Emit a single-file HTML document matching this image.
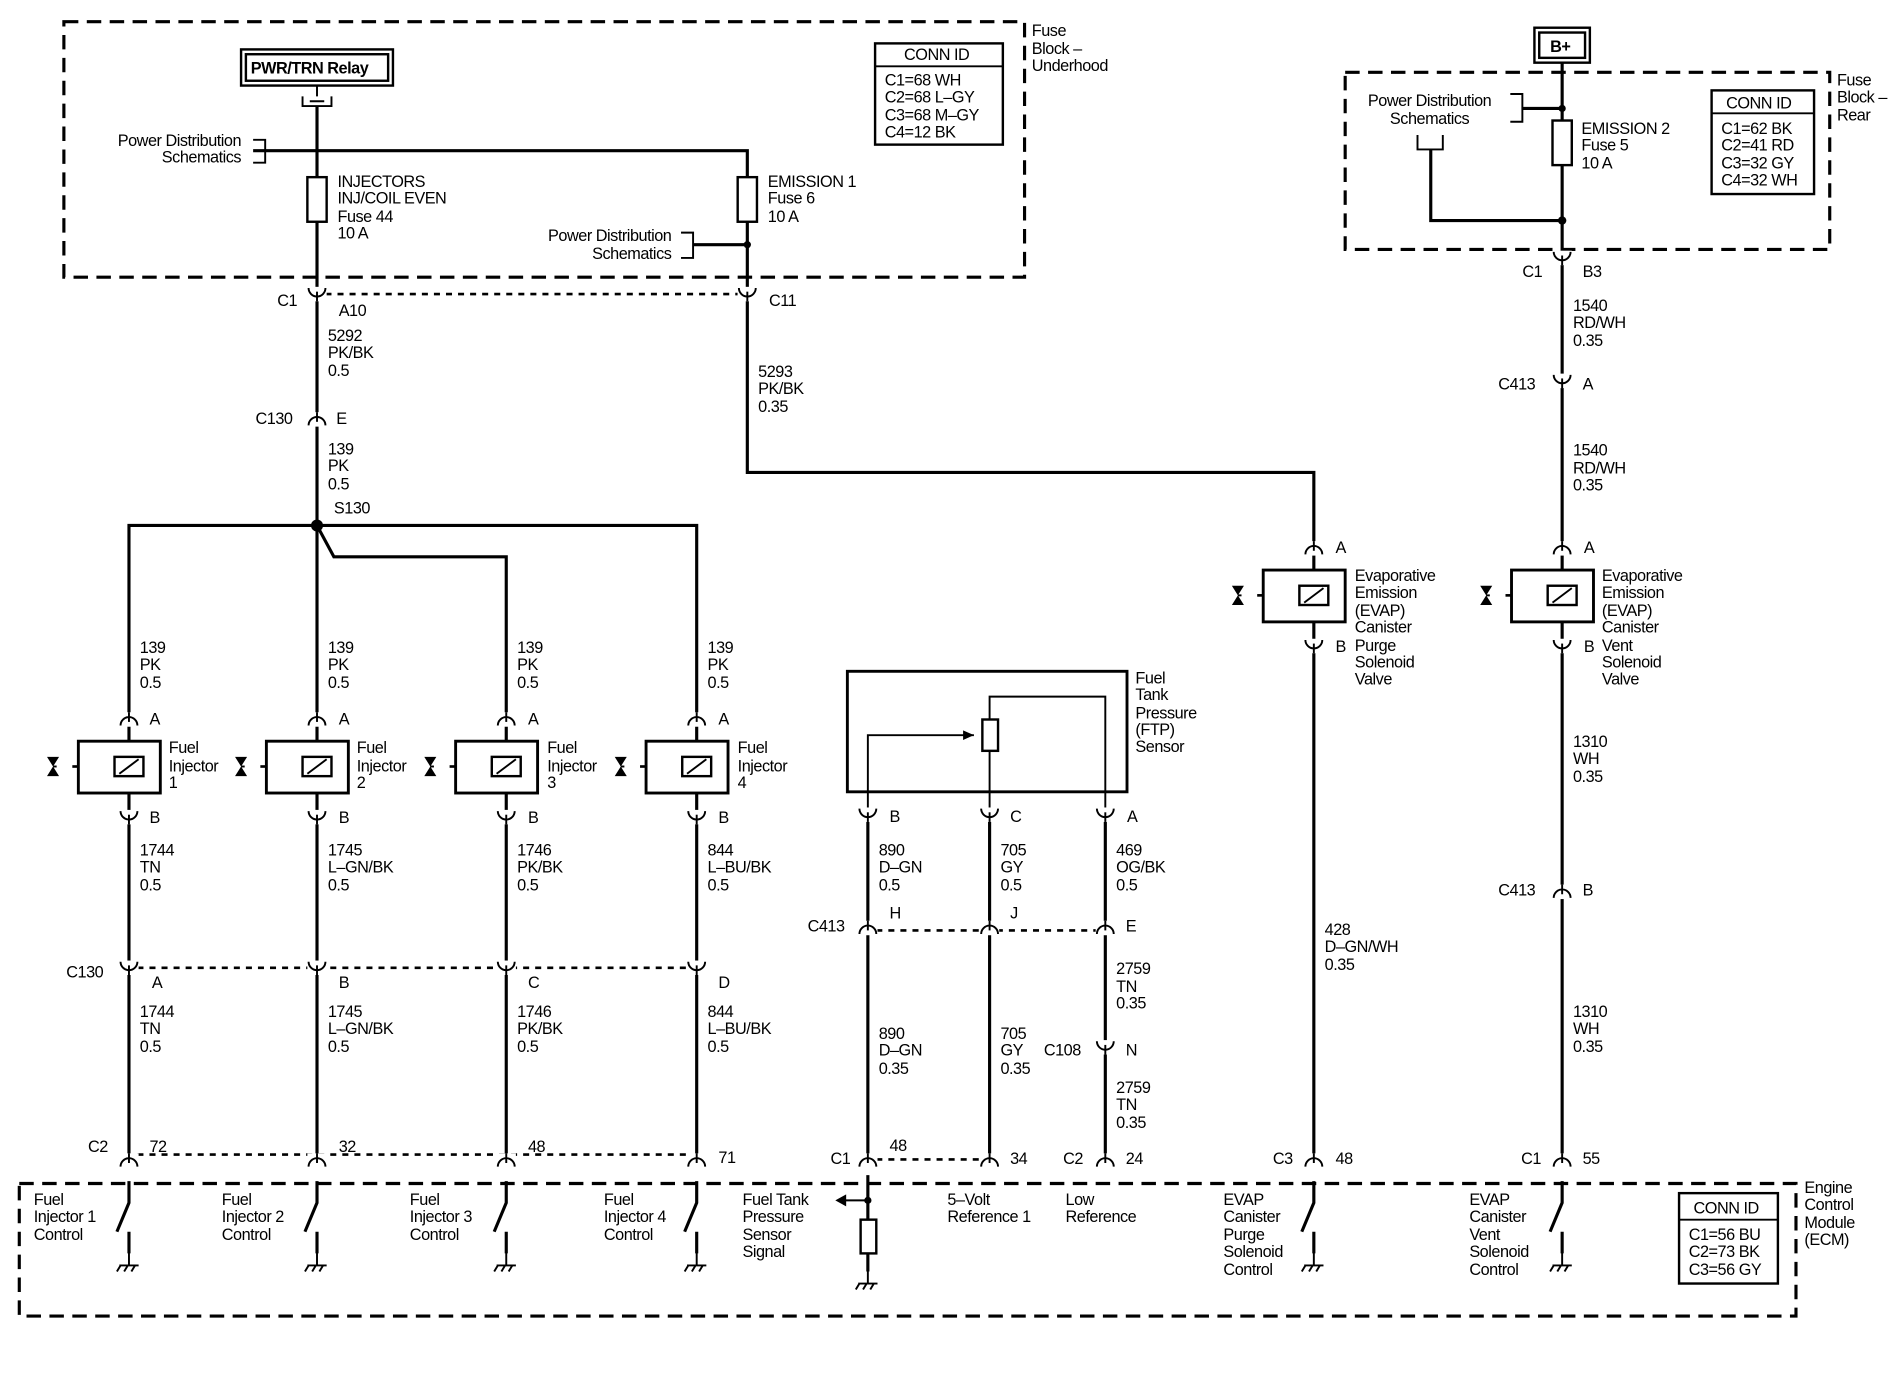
<!DOCTYPE html>
<html><head><meta charset="utf-8"><style>
html,body{margin:0;padding:0;background:#fff;}
svg{display:block}
text{font-family:"Liberation Sans",sans-serif;font-size:13.5px;fill:#000;letter-spacing:-0.4px}
.w{stroke:#000;stroke-width:2.6;fill:none}
.t{stroke:#000;stroke-width:1.6;fill:none}
.d{stroke:#000;stroke-width:2.6;fill:none;stroke-dasharray:12 7}
.dd{stroke:#000;stroke-width:2.2;fill:none;stroke-dasharray:5 5}
</style></head><body>
<svg width="1890" height="1392" viewBox="0 0 1568 1155" preserveAspectRatio="none" xmlns="http://www.w3.org/2000/svg">
<defs>
<g id="cu"><rect x="-8" y="-6" width="16" height="12" fill="#fff"/><path d="M-7,-5 A7,7 0 0 0 7,-5" class="t" stroke-width="2.4"/><path d="M0,-2 V6" class="t" stroke-width="2.6"/></g>
<g id="cn"><rect x="-8" y="-6" width="16" height="12" fill="#fff"/><path d="M-7,5 A7,7 0 0 1 7,5" class="t" stroke-width="2.4"/><path d="M0,-6 V2" class="t" stroke-width="2.6"/></g>
<g id="gnd"><path d="M0,0 V12 M-8,12 H8 M-7,12 l-3,5 M-1,12 l-3,5 M5,12 l-3,5" class="t"/></g>
<g id="sol"><rect x="-42" y="0" width="68" height="43" fill="#fff" stroke="#000" stroke-width="2.4"/><rect x="-12" y="13" width="24" height="16" fill="none" stroke="#000" stroke-width="2"/><path d="M-8,27 L8,15" class="t"/><path d="M-42,21 H-52" class="dd" stroke-width="1.6"/><path d="M-68,13 L-58,29 H-68 L-58,13 Z" fill="#000"/><path d="M-63,21 H-60" class="t"/></g>
</defs>
<rect width="1568" height="1155" fill="#fff"/>

<!-- Top left fuse block -->
<rect x="53" y="18" width="797" height="212" class="d"/>
<text x="856" y="30">Fuse</text><text x="856" y="45">Block –</text><text x="856" y="59">Underhood</text>
<rect x="200" y="41" width="126" height="30" fill="#fff" stroke="#000" stroke-width="2"/>
<rect x="204" y="45" width="118" height="22" fill="none" stroke="#000" stroke-width="2"/>
<text x="208" y="61" font-weight="bold">PWR/TRN Relay</text>
<path d="M263,71 V80 M251,80 V88 H275 V80 M257,84 H269" class="t"/>
<path d="M263,88 V960" class="w"/>
<path d="M210,125 H620 V200" class="w"/>
<path d="M210,116 H220 V135 H210" class="t"/>
<text x="200" y="121" text-anchor="end">Power Distribution</text><text x="200" y="135" text-anchor="end">Schematics</text>
<rect x="255" y="147" width="16" height="37" fill="#fff" stroke="#000" stroke-width="2"/>
<text x="280" y="155">INJECTORS</text><text x="280" y="169">INJ/COIL EVEN</text><text x="280" y="184">Fuse 44</text><text x="280" y="198">10 A</text>
<rect x="612" y="147" width="16" height="37" fill="#fff" stroke="#000" stroke-width="2"/>
<text x="637" y="155">EMISSION 1</text><text x="637" y="169">Fuse 6</text><text x="637" y="184">10 A</text>
<path d="M565,193 H575 V214 H565" class="t"/><path d="M575,203 H620" class="w"/><circle cx="620" cy="203" r="3"/>
<text x="557" y="200" text-anchor="end">Power Distribution</text><text x="557" y="215" text-anchor="end">Schematics</text>
<path d="M620,200 V392 H1090 V960" class="w"/>
<rect x="726" y="36" width="106" height="84" fill="#fff" stroke="#000" stroke-width="2"/>
<path d="M726,55 H832" class="t"/>
<text x="750" y="50">CONN ID</text><text x="734" y="71">C1=68 WH</text><text x="734" y="85">C2=68 L–GY</text><text x="734" y="100">C3=68 M–GY</text><text x="734" y="114">C4=12 BK</text>

<path d="M270,244 H612" class="dd"/>
<use href="#cu" x="263" y="244"/><use href="#cu" x="620" y="244"/>
<text x="230" y="254">C1</text><text x="281" y="262">A10</text><text x="638" y="254">C11</text>
<text x="272" y="283">5292</text><text x="272" y="297">PK/BK</text><text x="272" y="312">0.5</text>
<text x="629" y="313">5293</text><text x="629" y="327">PK/BK</text><text x="629" y="342">0.35</text>
<use href="#cn" x="263" y="348"/><text x="212" y="352">C130</text><text x="279" y="352">E</text>
<text x="272" y="377">139</text><text x="272" y="391">PK</text><text x="272" y="406">0.5</text>
<circle cx="263" cy="436" r="5"/><text x="277" y="426">S130</text>
<path d="M107,960 V436 H578 V960" class="w"/>
<path d="M263,436 L277,462 H420 V960" class="w"/>

<!-- injectors -->
<g>
<use href="#cn" x="107" y="597"/><use href="#sol" x="107" y="615"/><use href="#cu" x="107" y="678"/>
<use href="#cn" x="263" y="597"/><use href="#sol" x="263" y="615"/><use href="#cu" x="263" y="678"/>
<use href="#cn" x="420" y="597"/><use href="#sol" x="420" y="615"/><use href="#cu" x="420" y="678"/>
<use href="#cn" x="578" y="597"/><use href="#sol" x="578" y="615"/><use href="#cu" x="578" y="678"/>
</g>
<text x="116" y="542">139</text><text x="116" y="556">PK</text><text x="116" y="571">0.5</text>
<text x="272" y="542">139</text><text x="272" y="556">PK</text><text x="272" y="571">0.5</text>
<text x="429" y="542">139</text><text x="429" y="556">PK</text><text x="429" y="571">0.5</text>
<text x="587" y="542">139</text><text x="587" y="556">PK</text><text x="587" y="571">0.5</text>
<text x="124" y="601">A</text><text x="281" y="601">A</text><text x="438" y="601">A</text><text x="596" y="601">A</text>
<text x="140" y="625">Fuel</text><text x="140" y="640">Injector</text><text x="140" y="654">1</text>
<text x="296" y="625">Fuel</text><text x="296" y="640">Injector</text><text x="296" y="654">2</text>
<text x="454" y="625">Fuel</text><text x="454" y="640">Injector</text><text x="454" y="654">3</text>
<text x="612" y="625">Fuel</text><text x="612" y="640">Injector</text><text x="612" y="654">4</text>
<text x="124" y="683">B</text><text x="281" y="683">B</text><text x="438" y="683">B</text><text x="596" y="683">B</text>
<text x="116" y="710">1744</text><text x="116" y="724">TN</text><text x="116" y="739">0.5</text>
<text x="272" y="710">1745</text><text x="272" y="724">L–GN/BK</text><text x="272" y="739">0.5</text>
<text x="429" y="710">1746</text><text x="429" y="724">PK/BK</text><text x="429" y="739">0.5</text>
<text x="587" y="710">844</text><text x="587" y="724">L–BU/BK</text><text x="587" y="739">0.5</text>
<path d="M114,803 H571" class="dd"/>
<use href="#cu" x="107" y="803"/><use href="#cu" x="263" y="803"/><use href="#cu" x="420" y="803"/><use href="#cu" x="578" y="803"/>
<text x="55" y="811">C130</text><text x="126" y="820">A</text><text x="281" y="820">B</text><text x="438" y="820">C</text><text x="596" y="820">D</text>
<text x="116" y="844">1744</text><text x="116" y="858">TN</text><text x="116" y="873">0.5</text>
<text x="272" y="844">1745</text><text x="272" y="858">L–GN/BK</text><text x="272" y="873">0.5</text>
<text x="429" y="844">1746</text><text x="429" y="858">PK/BK</text><text x="429" y="873">0.5</text>
<text x="587" y="844">844</text><text x="587" y="858">L–BU/BK</text><text x="587" y="873">0.5</text>
<path d="M114,958 H571" class="dd"/>
<text x="73" y="956">C2</text><text x="124" y="956">72</text><text x="281" y="956">32</text><text x="438" y="956">48</text><text x="596" y="965">71</text>

<!-- FTP sensor -->
<rect x="703" y="557" width="232" height="100" fill="#fff" stroke="#000" stroke-width="2.4"/>
<text x="942" y="567">Fuel</text><text x="942" y="581">Tank</text><text x="942" y="596">Pressure</text><text x="942" y="610">(FTP)</text><text x="942" y="624">Sensor</text>
<path d="M720,676 V610 H808" class="t" stroke-width="2"/><path d="M808,610 l-9,-4 v8 Z" fill="#000"/>
<rect x="815" y="597" width="13" height="26" fill="#fff" stroke="#000" stroke-width="2"/>
<path d="M821,597 V578 H917 V676 M821,623 V676" class="t" stroke-width="2"/>
<path d="M720,676 V960 M821,676 V960 M917,676 V960" class="w"/>
<use href="#cu" x="720" y="676"/><use href="#cu" x="821" y="676"/><use href="#cu" x="917" y="676"/>
<text x="738" y="682">B</text><text x="838" y="682">C</text><text x="935" y="682">A</text>
<text x="729" y="710">890</text><text x="729" y="724">D–GN</text><text x="729" y="739">0.5</text>
<text x="830" y="710">705</text><text x="830" y="724">GY</text><text x="830" y="739">0.5</text>
<text x="926" y="710">469</text><text x="926" y="724">OG/BK</text><text x="926" y="739">0.5</text>
<path d="M727,772 H910" class="dd"/>
<use href="#cn" x="720" y="770"/><use href="#cn" x="821" y="770"/><use href="#cn" x="917" y="770"/>
<text x="670" y="773">C413</text><text x="738" y="762">H</text><text x="838" y="762">J</text><text x="934" y="773">E</text>
<text x="926" y="808">2759</text><text x="926" y="823">TN</text><text x="926" y="837">0.35</text>
<use href="#cu" x="917" y="869"/><text x="866" y="876">C108</text><text x="934" y="876">N</text>
<text x="926" y="907">2759</text><text x="926" y="921">TN</text><text x="926" y="936">0.35</text>
<text x="729" y="862">890</text><text x="729" y="876">D–GN</text><text x="729" y="891">0.35</text>
<text x="830" y="862">705</text><text x="830" y="876">GY</text><text x="830" y="891">0.35</text>
<path d="M727,962 H814" class="dd"/>
<text x="689" y="966">C1</text><text x="738" y="955">48</text><text x="838" y="966">34</text><text x="882" y="966">C2</text><text x="934" y="966">24</text>

<!-- EVAP purge -->
<use href="#cn" x="1090" y="455"/><use href="#sol" x="1090" y="473"/><use href="#cu" x="1090" y="536"/>
<text x="1108" y="459">A</text><text x="1108" y="541">B</text>
<text x="1124" y="482">Evaporative</text><text x="1124" y="496">Emission</text><text x="1124" y="511">(EVAP)</text><text x="1124" y="525">Canister</text><text x="1124" y="540">Purge</text><text x="1124" y="554">Solenoid</text><text x="1124" y="568">Valve</text>
<text x="1099" y="776">428</text><text x="1099" y="790">D–GN/WH</text><text x="1099" y="805">0.35</text>
<text x="1056" y="966">C3</text><text x="1108" y="966">48</text>

<!-- Right fuse block -->
<rect x="1116" y="60" width="402" height="147" class="d"/>
<text x="1524" y="71">Fuse</text><text x="1524" y="85">Block –</text><text x="1524" y="100">Rear</text>
<rect x="1273" y="23" width="46" height="29" fill="#fff" stroke="#000" stroke-width="2"/>
<rect x="1277" y="27" width="38" height="21" fill="none" stroke="#000" stroke-width="2"/>
<text x="1286" y="43" font-weight="bold">B+</text>
<path d="M1296,52 V960" class="w"/>
<path d="M1253,78 H1263 V101 H1253" class="t"/><path d="M1263,90 H1296" class="w"/><circle cx="1296" cy="90" r="3"/>
<text x="1186" y="88" text-anchor="middle">Power Distribution</text><text x="1186" y="103" text-anchor="middle">Schematics</text>
<path d="M1176,112 V124 H1197 V112" class="t"/><path d="M1187,124 V183 H1296" class="w"/><circle cx="1296" cy="183" r="3.5"/>
<rect x="1288" y="100" width="16" height="37" fill="#fff" stroke="#000" stroke-width="2"/>
<text x="1312" y="111">EMISSION 2</text><text x="1312" y="125">Fuse 5</text><text x="1312" y="140">10 A</text>
<rect x="1420" y="75" width="85" height="86" fill="#fff" stroke="#000" stroke-width="2"/>
<path d="M1420,94 H1505" class="t"/>
<text x="1432" y="90">CONN ID</text><text x="1428" y="111">C1=62 BK</text><text x="1428" y="125">C2=41 RD</text><text x="1428" y="140">C3=32 GY</text><text x="1428" y="154">C4=32 WH</text>
<use href="#cu" x="1296" y="214"/><text x="1263" y="230">C1</text><text x="1313" y="230">B3</text>
<text x="1305" y="258">1540</text><text x="1305" y="272">RD/WH</text><text x="1305" y="287">0.35</text>
<use href="#cu" x="1296" y="316"/><text x="1243" y="323">C413</text><text x="1313" y="323">A</text>
<text x="1305" y="378">1540</text><text x="1305" y="393">RD/WH</text><text x="1305" y="407">0.35</text>
<use href="#cn" x="1296" y="455"/><use href="#sol" x="1296" y="473"/><use href="#cu" x="1296" y="536"/>
<text x="1314" y="459">A</text><text x="1314" y="541">B</text>
<text x="1329" y="482">Evaporative</text><text x="1329" y="496">Emission</text><text x="1329" y="511">(EVAP)</text><text x="1329" y="525">Canister</text><text x="1329" y="540">Vent</text><text x="1329" y="554">Solenoid</text><text x="1329" y="568">Valve</text>
<text x="1305" y="620">1310</text><text x="1305" y="634">WH</text><text x="1305" y="649">0.35</text>
<use href="#cn" x="1296" y="740"/><text x="1243" y="743">C413</text><text x="1313" y="743">B</text>
<text x="1305" y="844">1310</text><text x="1305" y="858">WH</text><text x="1305" y="873">0.35</text>
<text x="1262" y="966">C1</text><text x="1313" y="966">55</text>

<!-- ECM -->
<rect x="16" y="982" width="1474" height="110" class="d"/>
<text x="1497" y="990">Engine</text><text x="1497" y="1004">Control</text><text x="1497" y="1019">Module</text><text x="1497" y="1033">(ECM)</text>
<rect x="1393" y="990" width="82" height="75" fill="#fff" stroke="#000" stroke-width="2"/>
<path d="M1393,1012 H1475" class="t"/>
<text x="1405" y="1007">CONN ID</text><text x="1401" y="1029">C1=56 BU</text><text x="1401" y="1043">C2=73 BK</text><text x="1401" y="1058">C3=56 GY</text>
<g>
<use href="#cn" x="107" y="963"/><use href="#cn" x="263" y="963"/><use href="#cn" x="420" y="963"/><use href="#cn" x="578" y="963"/>
<use href="#cn" x="720" y="963"/><use href="#cn" x="821" y="963"/><use href="#cn" x="917" y="963"/><use href="#cn" x="1090" y="963"/><use href="#cn" x="1296" y="963"/>
</g>
<path d="M107,980 V998 L97,1022 M107,1022 V1040" class="w"/><use href="#gnd" x="107" y="1038"/>
<path d="M263,980 V998 L253,1022 M263,1022 V1040" class="w"/><use href="#gnd" x="263" y="1038"/>
<path d="M420,980 V998 L410,1022 M420,1022 V1040" class="w"/><use href="#gnd" x="420" y="1038"/>
<path d="M578,980 V998 L568,1022 M578,1022 V1040" class="w"/><use href="#gnd" x="578" y="1038"/>
<path d="M1090,980 V998 L1080,1022 M1090,1022 V1040" class="w"/><use href="#gnd" x="1090" y="1038"/>
<path d="M1296,980 V998 L1286,1022 M1296,1022 V1040" class="w"/><use href="#gnd" x="1296" y="1038"/>
<path d="M720,975 V1012 M720,1040 V1055" class="w"/><circle cx="720" cy="996" r="3"/>
<path d="M720,996 H700" class="t"/><path d="M693,996 l9,-5 v10 Z" fill="#000"/>
<rect x="714" y="1012" width="13" height="28" fill="#fff" stroke="#000" stroke-width="2"/>
<use href="#gnd" x="720" y="1053"/>
<text x="28" y="1000">Fuel</text><text x="28" y="1014">Injector 1</text><text x="28" y="1029">Control</text>
<text x="184" y="1000">Fuel</text><text x="184" y="1014">Injector 2</text><text x="184" y="1029">Control</text>
<text x="340" y="1000">Fuel</text><text x="340" y="1014">Injector 3</text><text x="340" y="1029">Control</text>
<text x="501" y="1000">Fuel</text><text x="501" y="1014">Injector 4</text><text x="501" y="1029">Control</text>
<text x="616" y="1000">Fuel Tank</text><text x="616" y="1014">Pressure</text><text x="616" y="1029">Sensor</text><text x="616" y="1043">Signal</text>
<text x="786" y="1000">5–Volt</text><text x="786" y="1014">Reference 1</text>
<text x="884" y="1000">Low</text><text x="884" y="1014">Reference</text>
<text x="1015" y="1000">EVAP</text><text x="1015" y="1014">Canister</text><text x="1015" y="1029">Purge</text><text x="1015" y="1043">Solenoid</text><text x="1015" y="1058">Control</text>
<text x="1219" y="1000">EVAP</text><text x="1219" y="1014">Canister</text><text x="1219" y="1029">Vent</text><text x="1219" y="1043">Solenoid</text><text x="1219" y="1058">Control</text>
</svg>
</body></html>
